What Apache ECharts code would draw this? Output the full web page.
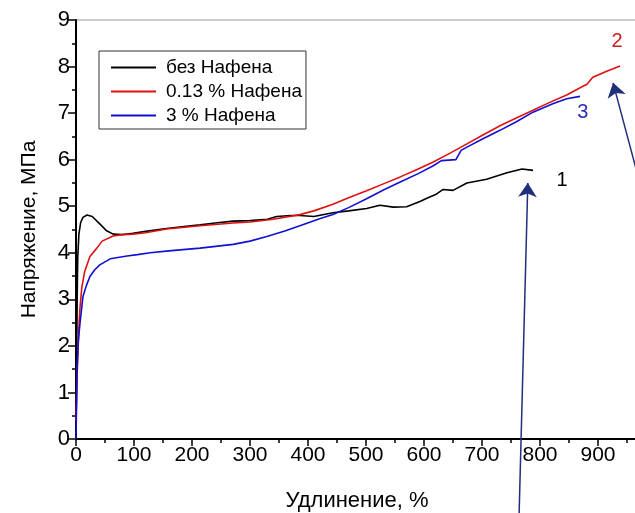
<!DOCTYPE html>
<html lang="ru">
<head>
    <meta charset="UTF-8">
    <title>Напряжение - удлинение</title>
    <style>
        * {
            margin: 0;
        }

        html,
        body,
        #chart {
            width: 635px;
            height: 513px;
            background: #fff;
        }
    </style>
</head>
<body>
    <div id="chart"></div>
    <script src="https://cdn.jsdelivr.net/npm/echarts@6/dist/echarts.min.js"></script>
    <script>
        var seriesNames = ['без Нафена', '0.13 % Нафена', '3 % Нафена'];
        var seriesColors = ['#000000', '#e01010', '#1010d0'];

        // [удлинение %, напряжение МПа]
        var noNafen = [[0, 0], [1, 1.5], [2, 3.0], [3, 3.9], [5, 4.4], [8, 4.65], [12, 4.76], [19, 4.81], [28, 4.78],
            [41, 4.62], [52, 4.48], [64, 4.40], [80, 4.39], [98, 4.42], [120, 4.46], [156, 4.52], [190, 4.57],
            [214, 4.6], [240, 4.64], [271, 4.68], [300, 4.69], [330, 4.72], [346, 4.78], [370, 4.80], [386, 4.80],
            [410, 4.78], [443, 4.86], [470, 4.90], [501, 4.95], [524, 5.02], [547, 4.98], [570, 4.99], [593, 5.10],
            [605, 5.17], [620, 5.25], [633, 5.36], [650, 5.34], [674, 5.5], [708, 5.58], [743, 5.72], [769, 5.80],
            [788, 5.77]];
        var nafen013 = [[0, 0.4], [2, 1.4], [3.5, 1.92], [5, 2.4], [7, 2.84], [10, 3.25], [15, 3.6], [24, 3.92],
            [36, 4.1], [45, 4.25], [64, 4.36], [80, 4.39], [98, 4.40], [120, 4.43], [156, 4.51], [214, 4.58],
            [271, 4.64], [300, 4.66], [340, 4.72], [386, 4.82], [410, 4.9], [443, 5.04], [470, 5.18], [501, 5.33],
            [530, 5.48], [559, 5.63], [590, 5.8], [616, 5.95], [645, 6.14], [674, 6.34], [700, 6.52], [731, 6.73],
            [760, 6.9], [788, 7.06], [815, 7.22], [846, 7.39], [870, 7.55], [881, 7.62], [891, 7.77], [915, 7.9],
            [938, 8.01]];
        var nafen3 = [[0, 0], [1, 0.8], [2, 1.56], [4, 2.1], [7, 2.5], [12, 3.06], [18, 3.3], [24, 3.49], [32, 3.63],
            [41, 3.74], [59, 3.87], [88, 3.93], [106, 3.96], [128, 4.0], [160, 4.04], [214, 4.1], [271, 4.18],
            [300, 4.25], [329, 4.35], [360, 4.47], [386, 4.58], [420, 4.73], [443, 4.82], [470, 4.97], [501, 5.16],
            [530, 5.35], [559, 5.52], [590, 5.7], [616, 5.87], [630, 5.98], [655, 6.0], [664, 6.2], [674, 6.27],
            [700, 6.44], [731, 6.63], [760, 6.82], [788, 7.02], [822, 7.2], [846, 7.31], [869, 7.36]];

        var curveLabels = ['1', '2', '3'];
        var curveLabelCoords = [[838, 5.56], [933, 8.53], [874, 7.02]];
        var curveLabelColors = ['#000000', '#cc2020', '#2a2ab8'];

        var arrowCoords = [
            [[764, -1.6], [779, 5.5]],
            [[985, 4.9], [926, 7.65]]
        ];

        var chart = echarts.init(document.getElementById('chart'));
        var font = 'Liberation Sans';
        var curves = [noNafen, nafen013, nafen3];

        var series = curves.map(function (d, i) {
            return {
                name: seriesNames[i],
                type: 'line',
                data: d,
                symbol: 'none',
                clip: false,
                lineStyle: { color: seriesColors[i], width: 1.6 },
                itemStyle: { color: seriesColors[i] },
                markPoint: {
                    symbol: 'circle',
                    symbolSize: 1,
                    itemStyle: { color: 'rgba(0,0,0,0)' },
                    label: {
                        show: true,
                        position: 'inside',
                        formatter: curveLabels[i],
                        fontFamily: font,
                        fontSize: 20,
                        color: curveLabelColors[i]
                    },
                    data: [{ coord: curveLabelCoords[i] }]
                }
            };
        });

        series.push({
            type: 'lines',
            coordinateSystem: 'cartesian2d',
            clip: false,
            symbol: ['none', 'arrow'],
            symbolSize: [6, 14],
            lineStyle: { color: '#1f2f7a', width: 1.5, opacity: 1 },
            data: arrowCoords.map(function (c) { return { coords: c }; })
        });

        var option = {
            animation: false,
            grid: {
                left: 76,
                top: 20,
                right: -21,
                bottom: 74,
                outerBoundsMode: 'none',
                containLabel: false,
                show: true,
                borderColor: '#999',
                borderWidth: 1
            },
            legend: {
                data: seriesNames,
                orient: 'vertical',
                left: 99,
                top: 51,
                padding: [7, 4, 4, 11],
                itemWidth: 45,
                itemHeight: 14,
                itemGap: 5,
                borderColor: '#333',
                borderWidth: 1,
                borderRadius: 0,
                itemStyle: { opacity: 0 },
                textStyle: {
                    fontFamily: font, fontSize: 19, lineHeight: 18, color: '#000',
                    padding: [0, 0, 0, 5]
                }
            },
            xAxis: {
                type: 'value',
                min: 0,
                max: 1000,
                interval: 100,
                name: 'Удлинение, %',
                nameLocation: 'middle',
                nameGap: 51,
                nameTextStyle: { fontFamily: font, fontSize: 22, color: '#000', padding: [0, 18, 0, 0] },
                axisLine: { lineStyle: { color: '#000', width: 2 } },
                axisTick: { length: 7, lineStyle: { color: '#000', width: 1.5 } },
                minorTick: { show: true, splitNumber: 2, length: 4, lineStyle: { color: '#000', width: 1.5 } },
                splitLine: { show: false },
                axisLabel: {
                    fontFamily: font, fontSize: 21, color: '#000', margin: 6,
                    formatter: function (v) { return v >= 1000 ? '' : String(v); }
                }
            },
            yAxis: {
                type: 'value',
                min: 0,
                max: 9,
                interval: 1,
                name: 'Напряжение, МПа',
                nameLocation: 'middle',
                nameGap: 36,
                nameTextStyle: { fontFamily: font, fontSize: 21, color: '#000' },
                axisLine: { show: true, lineStyle: { color: '#000', width: 2 } },
                axisTick: { show: true, length: 8, lineStyle: { color: '#000', width: 1.5 } },
                minorTick: { show: true, splitNumber: 2, length: 4, lineStyle: { color: '#000', width: 1.5 } },
                splitLine: { show: false },
                axisLabel: { fontFamily: font, fontSize: 22, color: '#000', margin: 6 }
            },
            series: series
        };
        chart.setOption(option);
    </script>
</body>
</html>
